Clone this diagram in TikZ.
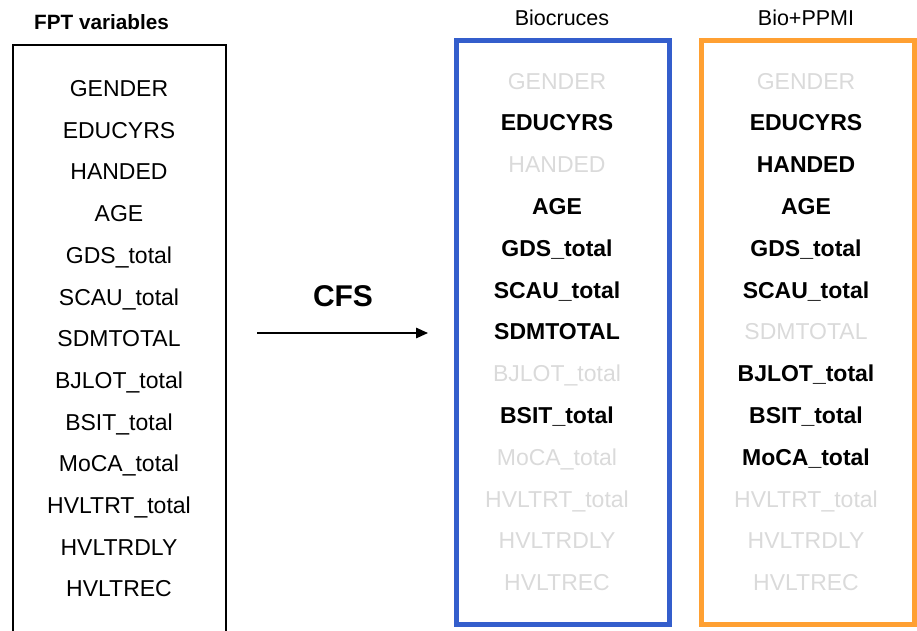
\documentclass[tikz,border=0pt]{standalone}
\usepackage{fontspec}
\setmainfont{Liberation Sans}
\usetikzlibrary{arrows.meta}
\definecolor{boxblue}{RGB}{52,94,204}
\definecolor{boxorange}{RGB}{255,160,50}
\definecolor{offgray}{RGB}{218,218,218}
\tikzset{
  item/.style={anchor=base, inner sep=0pt, font=\fontsize{23}{26}\selectfont},
  on/.style={item, font=\fontsize{23}{26}\selectfont\bfseries, text=black},
  off/.style={item, text=offgray},
  plain/.style={item, text=black},
  title/.style={anchor=base, inner sep=0pt, font=\fontsize{21.5}{24}\selectfont},
}
\begin{document}
\begin{tikzpicture}[x=1pt,y=-1pt]
\useasboundingbox (0,0) rectangle (917,630);
\clip (0,0) rectangle (917,630);
% left box (open at the bottom)
\draw[line width=2pt] (13,640) -- (13,45) -- (226,45) -- (226,640);
\node[title, font=\fontsize{20.7}{24}\selectfont\bfseries] (tfpt) at (101.5,29) {FPT variables};
% coloured boxes
\draw[boxblue, line width=4.5pt] (456.5,40.5) rectangle (669.5,624.5);
\draw[boxorange, line width=5pt] (701.5,40.5) rectangle (914.5,624.5);
\node[title] (tbio) at (562,25) {Biocruces};
\node[title] (tppmi) at (806,25) {Bio+PPMI};
% left list
\foreach \t [count=\i from 0] in {GENDER,EDUCYRS,HANDED,AGE,GDS\_total,SCAU\_total,SDMTOTAL,BJLOT\_total,BSIT\_total,MoCA\_total,HVLTRT\_total,HVLTRDLY,HVLTREC}
  \node[plain] (l\i) at (119,96.5+41.7*\i) {\t};
% Biocruces list
\foreach \t/\s [count=\i from 0] in {GENDER/off,EDUCYRS/on,HANDED/off,AGE/on,GDS\_total/on,SCAU\_total/on,SDMTOTAL/on,BJLOT\_total/off,BSIT\_total/on,MoCA\_total/off,HVLTRT\_total/off,HVLTRDLY/off,HVLTREC/off}
  \node[\s] (b\i) at (557,89+41.8*\i) {\t};
% Bio+PPMI list
\foreach \t/\s [count=\i from 0] in {GENDER/off,EDUCYRS/on,HANDED/on,AGE/on,GDS\_total/on,SCAU\_total/on,SDMTOTAL/off,BJLOT\_total/on,BSIT\_total/on,MoCA\_total/on,HVLTRT\_total/off,HVLTRDLY/off,HVLTREC/off}
  \node[\s] (p\i) at (806,89+41.8*\i) {\t};
% arrow
\node[anchor=base, inner sep=0pt, font=\fontsize{30}{32}\selectfont\bfseries] (cfs) at (343,306.5) {CFS};
\coordinate (a1) at (257,333);
\coordinate (a2) at (428,333);
\draw[line width=1.5pt, -{Triangle[length=12pt,width=10.5pt]}] (a1) -- (a2);
\end{tikzpicture}
\end{document}
